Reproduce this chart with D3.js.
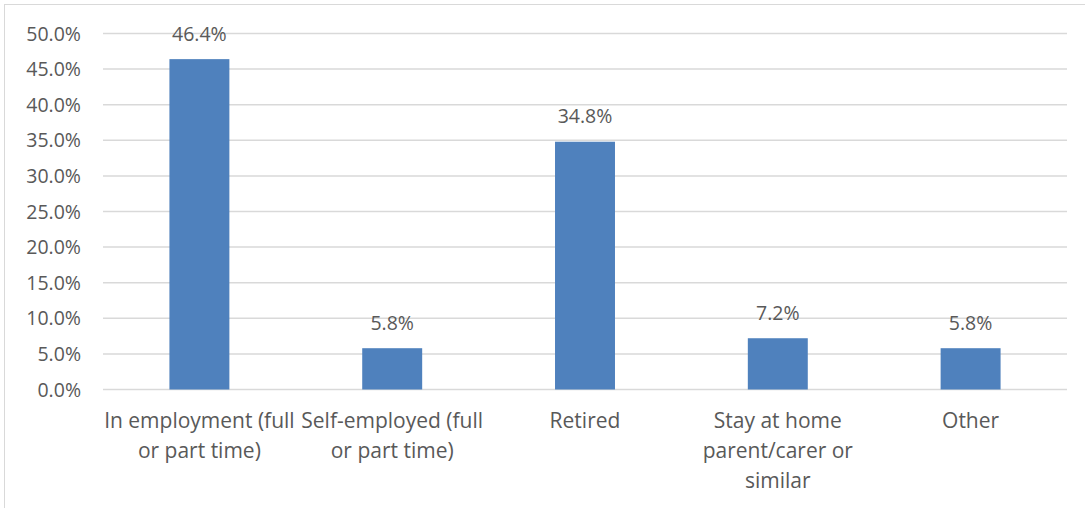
<!DOCTYPE html>
<html>
<head>
<meta charset="utf-8">
<script src="https://cdn.jsdelivr.net/npm/d3@7"></script>
<style>
  body { margin: 0; background: #fff; }
  text { font-family: "Open Sans", sans-serif; fill: #595959; }
</style>
</head>
<body>
<div id="chart"></div>
<script>
// data
var categories = [
  ["In employment (full", "or part time)"],
  ["Self-employed (full", "or part time)"],
  ["Retired"],
  ["Stay at home", "parent/carer or", "similar"],
  ["Other"]
];
var values = [46.4, 5.8, 34.8, 7.2, 5.8];
var tickValues = [0, 5, 10, 15, 20, 25, 30, 35, 40, 45, 50];

var W = 1085, H = 508;
var plotLeft = 103, plotRight = 1067, plotTop = 33.5, plotBottom = 389.5;

var svg = d3.select("#chart").append("svg")
    .attr("width", W)
    .attr("height", H);

// outer chart border (runs off the right / bottom edges)
svg.append("rect")
    .attr("x", 4.5).attr("y", 4.5)
    .attr("width", W + 10).attr("height", H + 10)
    .style("fill", "none")
    .style("stroke", "#d9d9d9")
    .style("stroke-width", "1px");

var x = d3.scaleBand()
    .domain(d3.range(categories.length))
    .range([plotLeft, plotRight])
    .padding(0);

var y = d3.scaleLinear()
    .domain([0, 50])
    .range([plotBottom, plotTop]);

var barW = x.bandwidth() * 0.311;

// gridlines
svg.selectAll(".grid")
    .data(tickValues)
    .enter()
    .append("line")
    .attr("x1", plotLeft).attr("x2", plotRight)
    .attr("y1", function(d) { return y(d); })
    .attr("y2", function(d) { return y(d); })
    .style("stroke", "#d9d9d9")
    .style("stroke-width", "1.5px");

// y tick labels
svg.selectAll(".ylab")
    .data(tickValues)
    .enter()
    .append("text")
    .attr("x", 81)
    .attr("y", function(d) { return y(d); })
    .attr("dy", "0.36em")
    .attr("text-anchor", "end")
    .style("font-size", "19.5px")
    .text(function(d) { return d.toFixed(1) + "%"; });

// bars
svg.selectAll(".bar")
    .data(values)
    .enter()
    .append("rect")
    .attr("x", function(d, i) { return x(i) + x.bandwidth() / 2 - barW / 2; })
    .attr("y", function(d) { return y(d); })
    .attr("width", barW)
    .attr("height", function(d) { return y(0) - y(d); })
    .style("fill", "#4f81bd");

// data labels
svg.selectAll(".vlab")
    .data(values)
    .enter()
    .append("text")
    .attr("x", function(d, i) { return x(i) + x.bandwidth() / 2; })
    .attr("y", function(d) { return y(d) - 18.5; })
    .attr("text-anchor", "middle")
    .style("font-size", "19.5px")
    .text(function(d) { return d.toFixed(1) + "%"; });

// category labels
var cat = svg.selectAll(".cat")
    .data(categories)
    .enter()
    .append("text")
    .attr("text-anchor", "middle")
    .style("font-size", "21px");

cat.selectAll("tspan")
    .data(function(d, i) { return d.map(function(s) { return {s: s, i: i}; }); })
    .enter()
    .append("tspan")
    .attr("x", function(d) { return x(d.i) + x.bandwidth() / 2; })
    .attr("y", function(d, j) { return 428 + j * 30; })
    .text(function(d) { return d.s; });
</script>
</body>
</html>
